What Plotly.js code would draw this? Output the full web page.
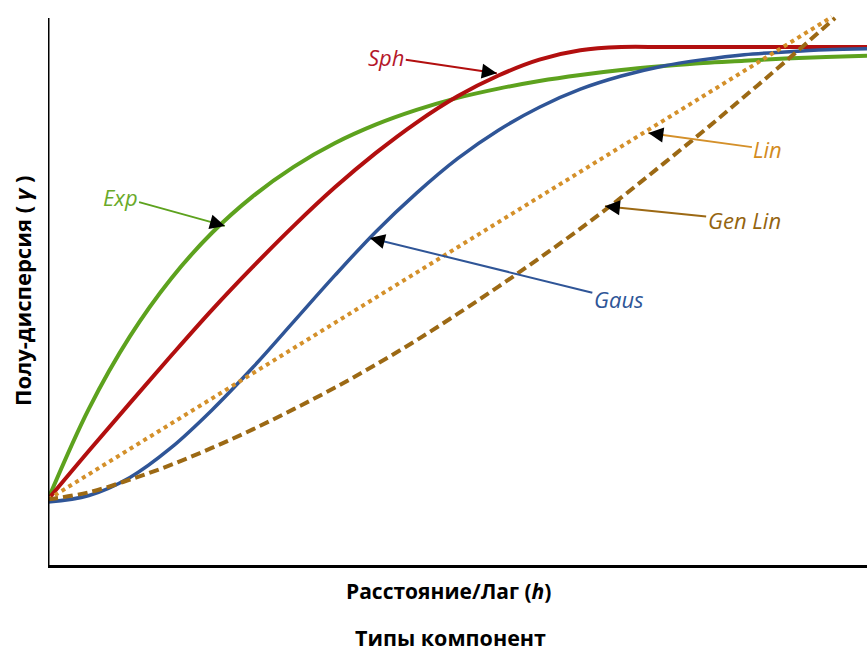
<!DOCTYPE html>
<html><head><meta charset="utf-8">
<script src="https://cdn.plot.ly/plotly-3.0.1.min.js"></script>
<style>html,body{margin:0;padding:0;background:#fff}</style>
</head><body>
<div id="chart" style="width:867px;height:652px"></div>
<script>
// Lag values (h) and semivariance
const lagGrid = [0,5,10,15,20,25,30,35,40,45,50,55,60,65,70,75,80,85,90,95,100];
const expVals = [12,28.6,41.8,52.3,60.7,67.4,72.8,77.1,80.5,83.2,85.4,87.1,88.5,89.6,90.5,91.2,91.8,92.2,92.6,92.9,93.1];
const sphVals = [12,20.9,29.6,38.2,46.6,54.5,62.0,69.0,75.3,80.9,85.7,89.5,92.4,94.1,94.7,94.7,94.7,94.7,94.7,94.7,94.7];
const gausVals = [11.5,12.7,16.0,21.4,28.3,36.1,44.5,52.9,60.9,68.0,74.3,79.5,83.7,87.0,89.4,91.2,92.4,93.3,93.8,94.2,94.4];
const genLinLag = [0,5,10,15,20,25,30,35,40,45,50,55,60,65,70,75,80,85,90,96.1];
const genLinVals = [12,13.3,15.6,18.3,21.4,24.8,28.5,32.4,36.6,41.1,45.9,50.9,56.1,61.5,67.2,73.2,79.3,85.6,92.0,100];
const linLag = [0,95.7];
const linVals = [12,100.2];

const names = ['Exp','Sph','Gaus','Lin','Gen Lin'];
const lineColors = ['#5da21e','#b20f0f','#2f5597','#d4902a','#9c6914'];
const textColors = ['#6aaa2a','#b5172a','#2e5597','#d38b1e','#94640f'];
// label text centre and arrow tip (data units)
const labelX = [8.8,41.3,69.7,87.9,85.0];
const labelY = [67.3,92.9,48.6,76.0,63.0];
const tipX = [21.6,54.8,39.3,73.3,68.0];
const tipY = [62.0,89.9,59.8,79.0,65.6];

const traces = [
  {x:lagGrid,y:expVals,mode:'lines',line:{color:lineColors[0],width:4,shape:'spline'},name:'Exp'},
  {x:lagGrid,y:sphVals,mode:'lines',line:{color:lineColors[1],width:4,shape:'spline'},name:'Sph'},
  {x:lagGrid,y:gausVals,mode:'lines',line:{color:lineColors[2],width:3.5,shape:'spline'},name:'Gaus'},
  {x:linLag,y:linVals,mode:'lines',line:{color:lineColors[3],width:4,dash:'dot'},name:'Lin'},
  {x:genLinLag,y:genLinVals,mode:'lines',line:{color:lineColors[4],width:4,dash:'10px,5px',shape:'spline'},name:'Gen Lin'}
];

const W=867,H=652,ml=48,mr=0,mt=0,mb=87;
const xr=[0,100], yr=[0,103.3];
const sx=(W-ml-mr)/(xr[1]-xr[0]), sy=(H-mt-mb)/(yr[1]-yr[0]);

const annotations=[];
for(let i=0;i<names.length;i++){
  annotations.push({x:tipX[i],y:tipY[i],xref:'x',yref:'y',ax:labelX[i],ay:labelY[i],axref:'x',ayref:'y',
    text:'<i>'+names[i]+'</i>',showarrow:true,arrowhead:0,arrowwidth:2,arrowcolor:lineColors[i],standoff:0,
    font:{family:'Open Sans, sans-serif',size:22,color:textColors[i]}});
  const dxp=(labelX[i]-tipX[i])*sx, dyp=(labelY[i]-tipY[i])*sy;
  const len=Math.hypot(dxp,dyp), k=14/len;
  annotations.push({x:tipX[i],y:tipY[i],xref:'x',yref:'y',ax:tipX[i]+(labelX[i]-tipX[i])*k,ay:tipY[i]+(labelY[i]-tipY[i])*k,
    axref:'x',ayref:'y',text:'',showarrow:true,arrowhead:2,arrowsize:1.5,arrowwidth:2,arrowcolor:'#000',standoff:0});
}
annotations.push({xref:'paper',yref:'paper',x:(448-ml)/(W-ml),y:(565-591)/565,xanchor:'center',yanchor:'middle',
  text:'<b>Расстояние/Лаг (<i>h</i>)</b>',showarrow:false,
  font:{family:'Open Sans, sans-serif',size:21,color:'#000'}});
annotations.push({xref:'paper',yref:'paper',x:(450-ml)/(W-ml),y:(565-637)/565,xanchor:'center',yanchor:'middle',
  text:'<b>Типы компонент</b>',showarrow:false,
  font:{family:'Open Sans, sans-serif',size:21.5,color:'#000'}});
annotations.push({xref:'paper',yref:'paper',x:(22-ml)/(W-ml),y:(565-291)/565,xanchor:'center',yanchor:'middle',
  text:'<b>Полу-дисперсия ( <i>γ</i> )</b>',showarrow:false,textangle:-90,
  font:{family:'Open Sans, sans-serif',size:22,color:'#000'}});

const layout={width:W,height:H,margin:{l:ml,r:mr,t:mt,b:mb},paper_bgcolor:'#fff',plot_bgcolor:'#fff',showlegend:false,
  xaxis:{range:xr,showgrid:false,zeroline:false,showticklabels:false,ticks:'',showline:true,linewidth:3,linecolor:'#000'},
  yaxis:{range:yr,showgrid:false,zeroline:false,showticklabels:false,ticks:'',showline:false},
  shapes:[{type:'line',xref:'x',yref:'y',x0:0,x1:0,y0:0,y1:100,line:{color:'#000',width:3}}],
  annotations:annotations};
Plotly.newPlot('chart',traces,layout,{staticPlot:true,displayModeBar:false});
</script>
</body></html>
